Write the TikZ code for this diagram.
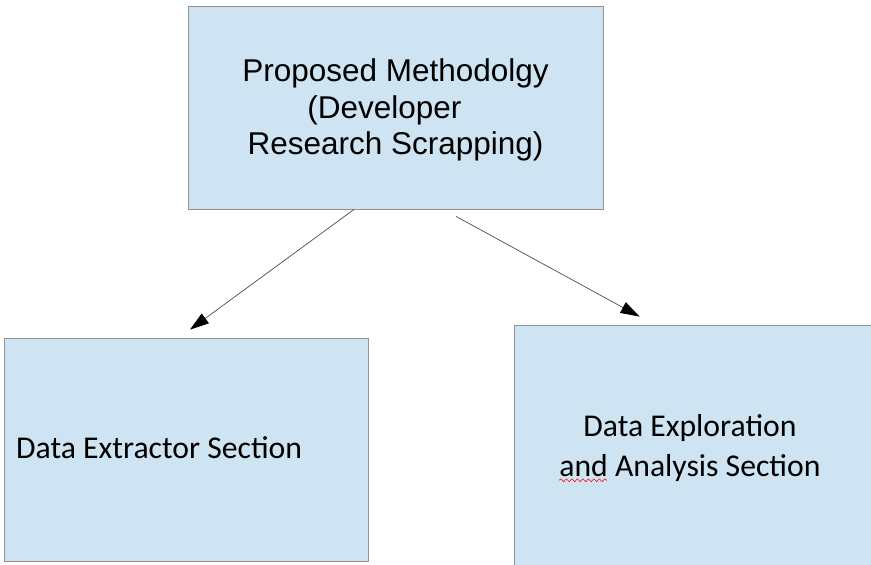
\documentclass[tikz,border=0pt]{standalone}
\usepackage{fontspec}
\setmainfont{Liberation Sans}
\newfontfamily\calfont{Carlito}
\usepackage{tikz}
\usetikzlibrary{arrows.meta}
\usetikzlibrary{decorations.pathmorphing}
\definecolor{boxblue}{RGB}{207,228,242}
\colorlet{boxline}{gray!85!white}
\colorlet{arrowgray}{black!70!white}

\tikzset{
  sectionbox/.style={draw=boxline, line width=0.8pt, fill=boxblue, inner sep=0pt},
  flowarrow/.style={arrowgray, line width=0.7pt, -{Triangle[length=19pt,width=12pt,color=black]}},
}

\begin{document}
\begin{tikzpicture}[x=1pt,y=-1pt]
      \useasboundingbox (0,0) rectangle (871,565);

      % upper box
      \node [sectionbox, minimum width=415pt, minimum height=203pt] (method) at (395.5,107.5) {};
      \node [align=center, inner sep=0pt, font=\fontsize{31.5}{36.5}\selectfont]
            (methodText) at (395.5,110) {Proposed Methodolgy\\(Developer\rule{0.7em}{0pt}\\Research Scrapping)};

      % lower boxes
      \node [sectionbox, minimum width=364pt, minimum height=223pt] (extract) at (186,449.5) {};
      \node [anchor=base west, inner sep=0pt, font=\calfont\fontsize{31.7}{40}\selectfont]
            (extractText) at (16,458) {Data Extractor Section};

      \node [sectionbox, minimum width=376pt, minimum height=265pt] (explore) at (702,457.5) {};
      \node [align=center, inner sep=0pt, font=\calfont\fontsize{31.7}{40}\selectfont]
            (exploreText) at (690,448) {Data Exploration\\and Analysis Section};
      \draw [red, line width=0.6pt, decorate, decoration={snake, amplitude=1.4pt, segment length=5.5pt}]
            ([yshift=1.5pt]exploreText.south west) -- ++(48,0);

      % arrow ends
      \coordinate (fromL) at ([xshift=-41.5pt]method.south);
      \coordinate (fromR) at ([xshift=60.5pt,yshift=-7pt]method.south);
      \coordinate (toL) at ([xshift=4pt,yshift=8pt]extract.north);
      \coordinate (toR) at ([xshift=126pt,yshift=8pt]explore.north west);

      \draw [flowarrow] (fromL) -- (toL);
      \draw [flowarrow] (fromR) -- (toR);

\end{tikzpicture}
\end{document}
